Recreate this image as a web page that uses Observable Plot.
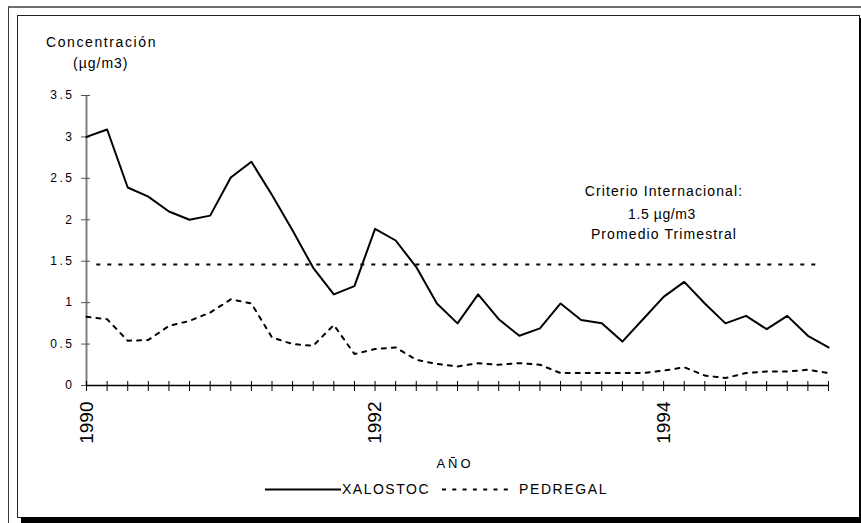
<!DOCTYPE html>
<html>
<head>
<meta charset="utf-8">
<script src="https://cdn.jsdelivr.net/npm/d3@7"></script>
<script src="https://cdn.jsdelivr.net/npm/@observablehq/plot@0.6"></script>
<style>
  html, body { margin: 0; padding: 0; background: #fff; }
  #wrap { position: relative; width: 861px; height: 523px; overflow: hidden; font-family: "Liberation Sans", Arial, sans-serif; color: #000; background: #fff; }
  .abs { position: absolute; white-space: nowrap; line-height: 1; }
  #chart { position: absolute; left: 0; top: 0; }
</style>
</head>
<body>
<div id="wrap">
  <div class="abs" style="left:8px;top:6px;width:900px;height:600px;border-top:2px solid #6e6e6e;border-left:1px solid #3c3c3c;"></div>
  <div class="abs" style="left:17px;top:15px;width:841px;height:501px;border:1px solid #222;"></div>
  <div class="abs" style="left:859px;top:18px;width:2px;height:505px;background:#000;"></div>
  <div class="abs" style="left:21px;top:517px;width:840px;height:6px;background:#000;"></div>
  <div id="chart"></div>
  <div class="abs" style="left:46px;top:35px;font-size:14px;letter-spacing:1.6px;">Concentración</div>
  <div class="abs" style="left:73px;top:56px;font-size:14px;letter-spacing:1px;">(µg/m3)</div>
  <div class="abs" style="left:584px;top:184px;width:160px;text-align:center;font-size:14px;letter-spacing:1.1px;">Criterio Internacional:</div>
  <div class="abs" style="left:582px;top:207px;width:160px;text-align:center;font-size:14px;letter-spacing:0.6px;">1.5 µg/m3</div>
  <div class="abs" style="left:584px;top:227px;width:160px;text-align:center;font-size:14px;letter-spacing:1.1px;">Promedio Trimestral</div>
  <div class="abs" style="left:405px;top:457px;width:100px;text-align:center;font-size:13px;letter-spacing:3px;">AÑO</div>
  <div class="abs" style="left:265px;top:482px;">
    <svg width="76" height="14" style="position:absolute;left:0;top:0;"><line x1="0" x2="76" y1="7.5" y2="7.5" stroke="#000" stroke-width="2"/></svg>
    <span style="position:absolute;left:77px;top:0;font-size:14px;letter-spacing:1.5px;">XALOSTOC</span>
    <svg width="72" height="14" style="position:absolute;left:177px;top:0;"><line x1="0" x2="72" y1="7.5" y2="7.5" stroke="#000" stroke-width="2" stroke-dasharray="4,6.3"/></svg>
    <span style="position:absolute;left:254px;top:0;font-size:14px;letter-spacing:1.6px;">PEDREGAL</span>
  </div>
</div>
<script>
// Data (one value per period, 37 periods)
const xalostoc = [3.00, 3.09, 2.39, 2.28, 2.10, 2.00, 2.05, 2.51, 2.70, 2.30,
                  1.87, 1.42, 1.10, 1.20, 1.89, 1.75, 1.43, 0.99, 0.75, 1.10,
                  0.80, 0.60, 0.69, 0.99, 0.79, 0.75, 0.53, 0.80, 1.07, 1.25,
                  0.99, 0.75, 0.84, 0.68, 0.84, 0.60, 0.46];
const pedregal = [0.83, 0.80, 0.54, 0.55, 0.72, 0.78, 0.88, 1.04, 0.99, 0.58,
                  0.50, 0.48, 0.73, 0.38, 0.44, 0.46, 0.31, 0.26, 0.23, 0.27,
                  0.25, 0.27, 0.25, 0.15, 0.15, 0.15, 0.15, 0.15, 0.18, 0.22,
                  0.12, 0.09, 0.15, 0.17, 0.17, 0.19, 0.15];
// International criterion line (value and period span)
const criterionValue = [1.46];
const criterionFrom = [0.5];
const criterionTo = [35.7];
// Axis ticks
const yTicks = [0, 0.5, 1, 1.5, 2, 2.5, 3, 3.5];
const yTickLabels = ["0", "0.5", "1", "1.5", "2", "2.5", "3", "3.5"];
const xLabelPositions = [0, 14, 28];
const xTickLabels = ["1990", "1992", "1994"];

const periods = xalostoc.map((_, i) => i);
const xalData = xalostoc.map((v, i) => ({i, v}));
const pedData = pedregal.map((v, i) => ({i, v}));
const critData = criterionValue.map((v, k) => ({v, from: criterionFrom[k], to: criterionTo[k]}));

const chart = Plot.plot({
  width: 861,
  height: 523,
  marginLeft: 86,
  marginRight: 33,
  marginTop: 95,
  marginBottom: 138,
  style: {background: "transparent", fontFamily: "'Liberation Sans', Arial, sans-serif", color: "#000"},
  x: {type: "linear", domain: [0, periods.length - 1], axis: null},
  y: {type: "linear", domain: [0, 3.5], axis: null},
  marks: [
    // y axis line
    Plot.ruleX([0], {y1: 0, y2: 3.5, stroke: "#7f7f7f", strokeWidth: 2}),
    // y ticks (crossing the axis)
    Plot.ruleY(yTicks, {y: d => d, x1: 0, x2: 0, insetLeft: -5, insetRight: -4, stroke: "#555", strokeWidth: 1}),
    Plot.text(yTicks, {x: 0, y: d => d, text: (d, i) => yTickLabels[i], textAnchor: "end", dx: -12, fontSize: 12}),
    // criterion dashed line
    Plot.ruleY(critData, {y: "v", x1: "from", x2: "to", stroke: "#000", strokeWidth: 2, strokeDasharray: "4,7"}),
    // series
    Plot.line(pedData, {x: "i", y: "v", stroke: "#000", strokeWidth: 2, strokeDasharray: "4,6"}),
    Plot.line(xalData, {x: "i", y: "v", stroke: "#000", strokeWidth: 2}),
    // x axis line and ticks
    Plot.ruleY([0], {x1: 0, x2: periods.length - 1, stroke: "#000", strokeWidth: 1.5}),
    Plot.ruleX(periods, {x: d => d, y1: 0, y2: 0, insetTop: -4, insetBottom: -6, stroke: "#000", strokeWidth: 1}),
    Plot.text(xLabelPositions, {x: d => d, y: 0, text: (d, i) => xTickLabels[i], rotate: -90, textAnchor: "end", lineAnchor: "middle", dy: 16, fontSize: 19})
  ]
});
document.getElementById("chart").appendChild(chart);
d3.select(chart).selectAll("text")
  .filter(function() { return yTickLabels.includes(this.textContent); })
  .attr("letter-spacing", "2.5px");
</script>
</body>
</html>
